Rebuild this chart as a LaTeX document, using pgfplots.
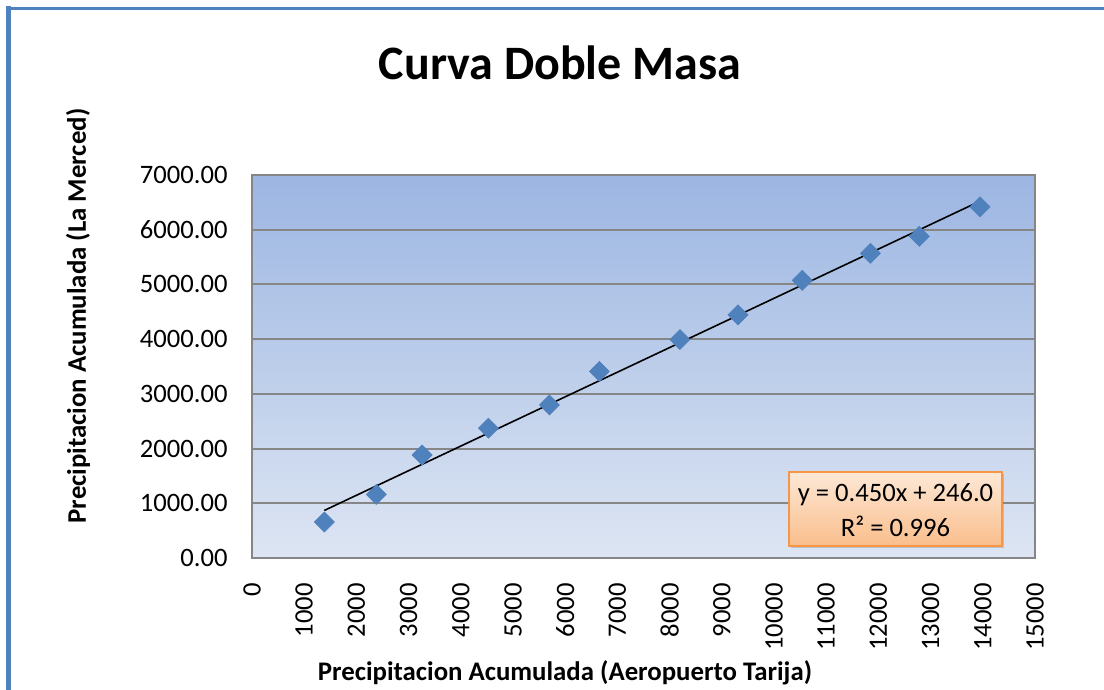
\documentclass[border=0pt]{standalone}
\usepackage{pgfplots}
\pgfplotsset{compat=1.18}
\usepackage{fontspec}
\setmainfont{Carlito}
\usetikzlibrary{shadows}

\definecolor{frameblue}{RGB}{79,129,189}
\definecolor{markblue}{RGB}{79,129,189}
\definecolor{gridgray}{RGB}{134,134,134}
\definecolor{bgtop}{RGB}{156,182,226}
\definecolor{bgbot}{RGB}{221,229,243}
\definecolor{boxorange}{RGB}{247,150,70}
\definecolor{boxtop}{RGB}{253,232,214}
\definecolor{boxbot}{RGB}{250,190,140}

% measured points (accumulated rainfall)
\pgfplotstableread{
x      y
1385   658
2381   1162
3259   1883
4529   2373
5699   2797
6655   3411
8197   3992
9310   4445
10540  5074
11847  5569
12784  5880
13946  6419
}\masa

\begin{document}
\begin{tikzpicture}
% page = 1104x690 px, 1px = 0.5pt
\useasboundingbox (0,0) rectangle (552pt,-345pt);

\begin{axis}[
  at={(126pt,-279pt)}, anchor=south west,
  scale only axis,
  width=391.5pt, height=191.5pt,
  xmin=0, xmax=15000, ymin=0, ymax=7000,
  xtick={0,1000,...,15000},
  ytick={0,1000,...,7000},
  scaled x ticks=false, scaled y ticks=false,
  major tick length=0pt,
  ymajorgrids,
  grid style={gridgray, line width=1pt},
  axis line style={gridgray, line width=1pt},
  axis background/.style={top color=bgtop, bottom color=bgbot},
  /pgf/number format/assume math mode=true,
  /pgf/number format/1000 sep={},
  yticklabel shift=12pt,
  xticklabel shift=12.5pt,
  yticklabel style={/pgf/number format/fixed, /pgf/number format/fixed zerofill,
    /pgf/number format/precision=2, font=\fontsize{13.3pt}{15pt}\selectfont,
    inner sep=0pt, anchor=east},
  xticklabel style={/pgf/number format/fixed, /pgf/number format/precision=0,
    font=\fontsize{13.3pt}{15pt}\selectfont, rotate=90,
    inner sep=0pt, anchor=east},
  clip=false,
]
\addplot[black, line width=0.8pt] coordinates {(1385,869) (13946,6522)};
\addplot[only marks, mark=square*, mark size=3.5pt,
  mark options={rotate=45, fill=markblue, draw=markblue}] table {\masa};
\end{axis}

% outer chart frame (right and bottom edges lie outside the page)
\draw[frameblue, line width=1.7pt] (3pt,-4.2pt) -- (552pt,-4.2pt);
\draw[frameblue, line width=2.6pt] (4.2pt,-3pt) -- (4.2pt,-345pt);

% title and axis titles
\node[anchor=base, font=\bfseries\fontsize{24pt}{28pt}\selectfont] at (280pt,-40pt) {Curva Doble Masa};
\node[font=\bfseries\fontsize{13.4pt}{15pt}\selectfont] at (282.5pt,-336.5pt)
  {Precipitacion Acumulada (Aeropuerto Tarija)};
\node[rotate=90, font=\bfseries\fontsize{13.4pt}{15pt}\selectfont] at (39pt,-158pt)
  {Precipitacion Acumulada (La Merced)};

% trendline equation box
\path[draw=boxorange, line width=1pt, top color=boxtop, bottom color=boxbot,
  drop shadow={shadow xshift=1.2pt, shadow yshift=-1.2pt, opacity=0.35}]
  (394.5pt,-236pt) rectangle (501pt,-273pt);
\node[font=\fontsize{13.3pt}{15pt}\selectfont] at (447.75pt,-247.5pt) {y = 0.450x + 246.0};
\node[font=\fontsize{13.3pt}{15pt}\selectfont] at (447.75pt,-263pt) {R² = 0.996};
\end{tikzpicture}
\end{document}
